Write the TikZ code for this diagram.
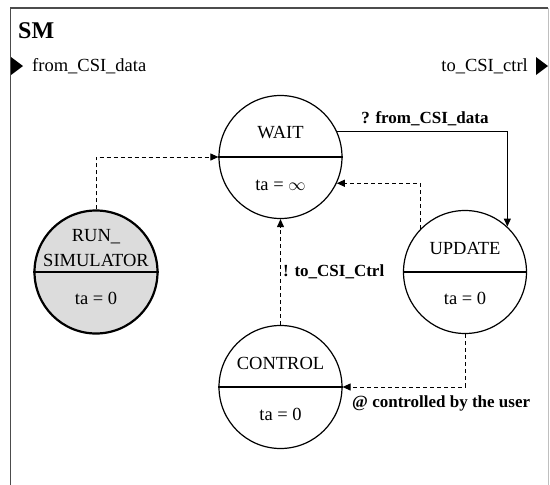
\documentclass[tikz,border=0pt]{standalone}
\usepackage{fontspec}
\setmainfont{Liberation Serif}
\usetikzlibrary{arrows.meta}
\begin{document}
\begin{tikzpicture}[x=1pt,y=-1pt,
  state/.style={circle,draw,line width=1.2pt,minimum size=123pt,inner sep=0pt},
  simstate/.style={state,fill=simgray,line width=2.2pt},
  txt/.style={font=\fontsize{18.5}{20}\selectfont,inner sep=0pt},
  lbl/.style={font=\bfseries\fontsize{17}{19}\selectfont,inner sep=0pt},
  solidarrow/.style={line width=1pt,-{Triangle[length=8pt,width=7pt]}},
  dasharrow/.style={line width=1pt,dash pattern=on 4pt off 3pt,-{Triangle[length=8pt,width=7pt]}},
  divider/.style={line width=1.4pt},
  port/.style={fill=black,draw=none}]
\definecolor{simgray}{RGB}{220,220,220}
\useasboundingbox[fill=white] (0,0) rectangle (550,485);
% frame
\draw[line width=1.2pt,black!70] (10.5,485) -- (10.5,8) -- (548,8);
\draw[line width=1pt,black!25] (548,8) -- (548,485);
\node[font=\bfseries\fontsize{24}{26}\selectfont,inner sep=0pt,anchor=west] (sm) at (18,31) {SM};
% ports
\fill[port] (11,57) -- (23,66) -- (11,75) -- cycle;
\node[txt,anchor=west] (inport) at (32,66) {from\_CSI\_data};
\fill[port] (536,57) -- (548,66) -- (536,75) -- cycle;
\node[txt,anchor=east] (outport) at (528,66) {to\_CSI\_ctrl};
% states
\node[state] (wait) at (280.5,157) {};
\draw[divider] (wait.west) -- (wait.east);
\node[txt] (waitn) at (280.5,133) {WAIT};
\node[txt] (waitta) at (280.5,185) {ta = $\infty$};

\node[state] (update) at (465,272) {};
\draw[divider] (update.west) -- (update.east);
\node[txt] (updn) at (465,248) {UPDATE};
\node[txt] (updta) at (465,298) {ta = 0};

\node[state] (control) at (280.5,387) {};
\draw[divider] (control.west) -- (control.east);
\node[txt] (ctln) at (280.5,363) {CONTROL};
\node[txt] (ctlta) at (280.5,414) {ta = 0};

\node[simstate] (run) at (96,272) {};
\draw[line width=2.2pt] (run.west) -- (run.east);
\node[txt] (runa) at (96,237) {RUN\_};
\node[txt] (runb) at (96,260) {SIMULATOR};
\node[txt] (runta) at (96,298) {ta = 0};
% connectors
\draw[dasharrow] (run.north) |- (wait.west);
\draw[solidarrow] (wait.24) -| (update.47);
\node[lbl] (l1) at (425,119) {? from\_CSI\_data};
\draw[dasharrow] (update.136) |- (wait.-25);
\draw[dasharrow] (control.north) -- (wait.south);
\node[lbl,anchor=west] (l2) at (283,272) {! to\_CSI\_Ctrl};
\draw[dasharrow] (update.south) |- (control.east);
\node[lbl,anchor=west] (l3) at (352,403) {@ controlled by the user};
\end{tikzpicture}
\end{document}
